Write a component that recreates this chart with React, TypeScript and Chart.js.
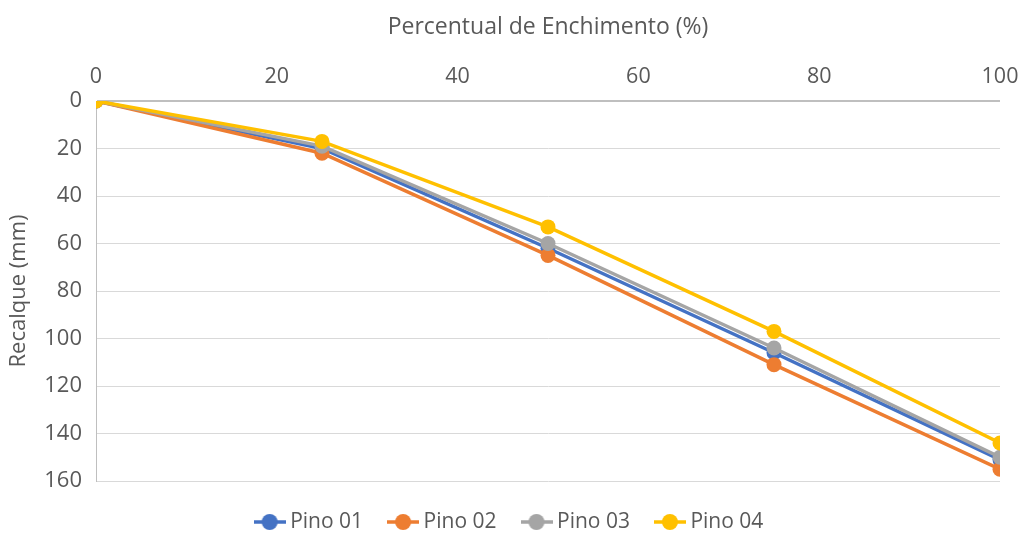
import React, { useEffect, useRef } from "react";
import { Chart, registerables } from "chart.js";

Chart.register(...registerables);

const fillPercent = [0, 25, 50, 75, 100];
const pino01 = [0, 20, 62, 106, 151];
const pino02 = [0, 22, 65, 111, 155];
const pino03 = [0, 19, 60, 104, 150];
const pino04 = [0, 17, 53, 97, 144];
const seriesNames = ["Pino 01", "Pino 02", "Pino 03", "Pino 04"];
const seriesColors = ["#4472C4", "#ED7D31", "#A5A5A5", "#FFC000"];
const xTicks = [0, 20, 40, 60, 80, 100];
const yTicks = [0, 20, 40, 60, 80, 100, 120, 140, 160];

const FONT = "'Open Sans', sans-serif";
const TEXT = "#595959";
const LEGEND_PAD = 30;
const LEGEND_FONT = 21;

function legendIcon(color: string): HTMLCanvasElement {
  const c = document.createElement("canvas");
  c.width = 32;
  c.height = 18;
  const ctx = c.getContext("2d")!;
  ctx.strokeStyle = color;
  ctx.lineWidth = 3.5;
  ctx.beginPath();
  ctx.moveTo(0, 9);
  ctx.lineTo(32, 9);
  ctx.stroke();
  ctx.fillStyle = color;
  ctx.beginPath();
  ctx.arc(16, 9, 8, 0, Math.PI * 2);
  ctx.fill();
  return c;
}

const legendPlacer = {
  id: "legendPlacer",
  beforeLayout(chart: any) {
    const lg = chart.legend;
    if (lg && !lg.__patched) {
      const orig = lg.fit.bind(lg);
      lg.fit = function () {
        orig();
        this.height = 52;
      };
      lg.__patched = true;
    }
  },
  afterLayout(chart: any) {
    const lg = chart.legend;
    if (lg) {
      const top = 522 - LEGEND_PAD - LEGEND_FONT / 2;
      lg.top = top;
      lg.bottom = top + lg.height;
    }
  },
};

export default function App() {
  const ref = useRef<HTMLCanvasElement | null>(null);
  useEffect(() => {
    if (!ref.current) return;
    const all = [pino01, pino02, pino03, pino04];
    const datasets = all.map((vals, i) => ({
      label: seriesNames[i],
      data: vals.map((v, j) => ({ x: fillPercent[j], y: v })),
      borderColor: seriesColors[i],
      backgroundColor: seriesColors[i],
      borderWidth: 3.5,
      pointRadius: 7.5,
      pointHoverRadius: 7.5,
      pointBorderWidth: 0,
      order: 4 - i,
      tension: 0,
    }));
    const chart = new Chart(ref.current, {
      type: "line",
      data: { datasets },
      plugins: [legendPlacer],
      options: {
        animation: false,
        responsive: false,
        maintainAspectRatio: false,
        layout: { padding: { left: 4, right: 0, top: 12, bottom: 0 } },
        plugins: {
          tooltip: { enabled: false },
          legend: {
            position: "bottom",
            labels: {
              usePointStyle: true,
              pointStyleWidth: 20,
              font: { family: FONT, size: LEGEND_FONT },
              color: TEXT,
              padding: LEGEND_PAD,
              generateLabels: () =>
                seriesNames.map((n, i) => ({
                  text: n,
                  pointStyle: legendIcon(seriesColors[i]),
                  fillStyle: seriesColors[i],
                  strokeStyle: seriesColors[i],
                  fontColor: TEXT,
                  datasetIndex: i,
                  hidden: false,
                  lineWidth: 0,
                })),
            },
          },
        },
        scales: {
          x: {
            type: "linear",
            position: "top",
            min: 0,
            max: 100,
            afterBuildTicks: (s: any) => {
              s.ticks = xTicks.map((v) => ({ value: v }));
            },
            afterFit: (s: any) => {
              s.height = 89;
              s.paddingLeft = 0;
              s.paddingRight = 19;
            },
            grid: { display: false, drawTicks: false },
            border: { display: false },
            ticks: {
              color: TEXT,
              font: { family: FONT, size: 21.5 },
              padding: 11,
            },
            title: {
              display: true,
              text: "Percentual de Enchimento (%)",
              color: TEXT,
              font: { family: FONT, size: 23 },
              padding: { top: 2, bottom: 8 },
            },
          },
          y: {
            type: "linear",
            reverse: true,
            min: 0,
            max: 160,
            afterBuildTicks: (s: any) => {
              s.ticks = yTicks.map((v) => ({ value: v }));
            },
            afterFit: (s: any) => {
              s.width = 92;
            },
            grid: {
              color: (ctx: any) => (ctx.tick && ctx.tick.value === 0 ? "#BFBFBF" : "#D9D9D9"),
              lineWidth: (ctx: any) => (ctx.tick && ctx.tick.value === 0 ? 2 : 1),
              drawTicks: false,
            },
            border: { display: true, color: "#BFBFBF", width: 1 },
            ticks: {
              color: TEXT,
              font: { family: FONT, size: 22 },
              padding: 14,
            },
            title: {
              display: true,
              text: "Recalque (mm)",
              color: TEXT,
              font: { family: FONT, size: 22 },
              padding: { top: 2, bottom: 8 },
            },
          },
        },
      },
    });
    return () => chart.destroy();
  }, []);
  return (
    <div style={{ position: "absolute", left: 0, top: 0, width: 1019, height: 533, background: "#fff" }}>
      <canvas ref={ref} width={1019} height={533} style={{ width: 1019, height: 533 }} />
    </div>
  );
}
